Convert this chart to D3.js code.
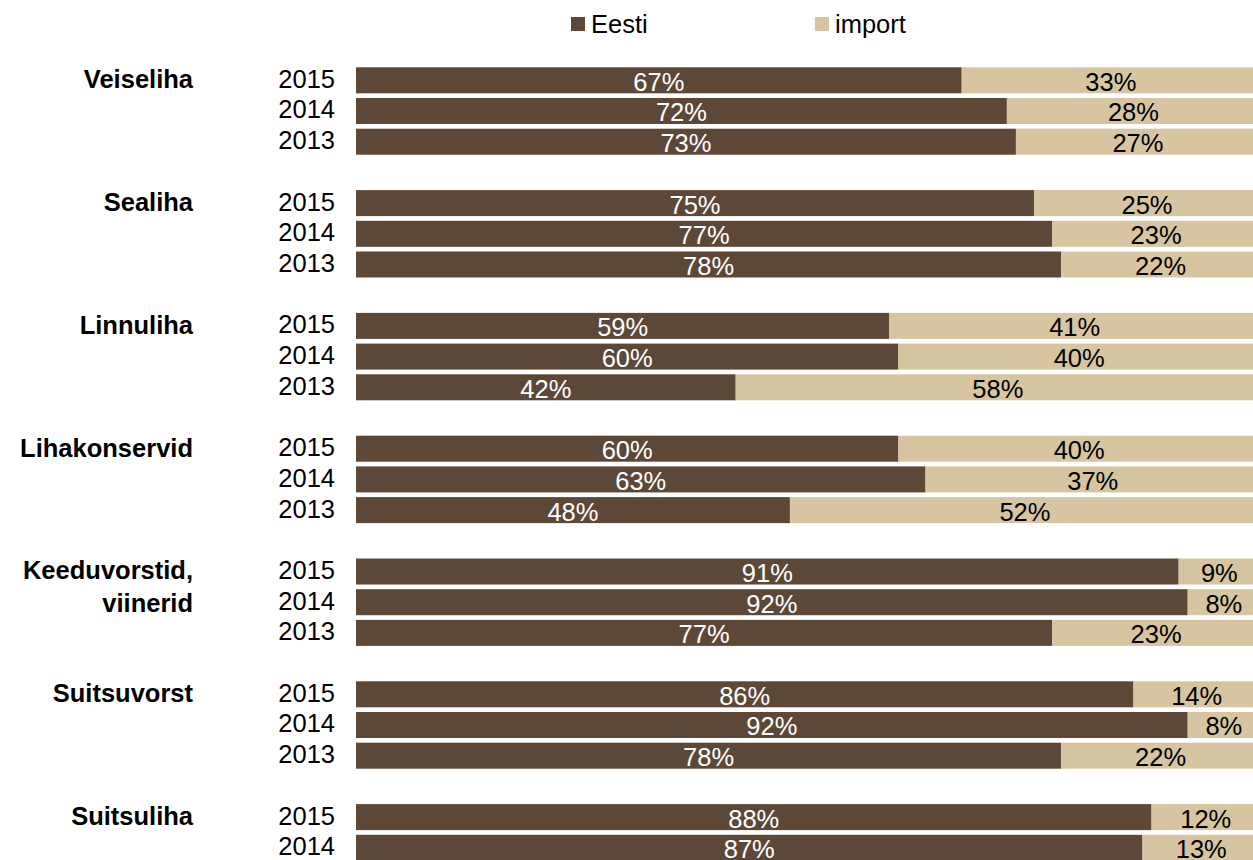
<!DOCTYPE html>
<html>
<head>
<meta charset="utf-8">
<script src="https://cdn.jsdelivr.net/npm/d3@7"></script>
<style>
  html, body { margin: 0; padding: 0; background: #fff; overflow: hidden; }
  svg { display: block; font-family: 'Liberation Sans', Arial, sans-serif; }
</style>
</head>
<body>
<svg width="1253" height="860"></svg>
<script>
let categories = ['Veiseliha', 'Sealiha', 'Linnuliha', 'Lihakonservid', 'Keeduvorstid, viinerid', 'Suitsuvorst', 'Suitsuliha'];
let years = ['2015', '2014', '2013'];
let seriesNames = ['Eesti', 'import'];
let eestiValues = [[67, 72, 73], [75, 77, 78], [59, 60, 42], [60, 63, 48], [91, 92, 77], [86, 92, 78], [88, 87]];
let importValues = [[33, 28, 27], [25, 23, 22], [41, 40, 58], [40, 37, 52], [9, 8, 23], [14, 8, 22], [12, 13]];

let svg = d3.select('svg');

let colors = {Eesti: '#5d4837', import: '#d7c5a1'};
let fontSize = 25.5;

// every group uses 4 slots: 3 years + a gap
let slotsPerGroup = 4;
let nSlots = categories.length * slotsPerGroup;
let step = 30.7, pad = 0.153, topY = 67.3;

let y = d3.scaleBand()
    .domain(d3.range(nSlots))
    .range([topY, topY + step * (nSlots - pad)])
    .paddingInner(pad)
    .paddingOuter(0);

let x = d3.scaleLinear().domain([0, 100]).range([356, 1260]);

let rows = [];
categories.forEach((c, g) => {
    eestiValues[g].forEach((v, r) => {
        rows.push({cat: c, group: g, year: years[r], slot: g * slotsPerGroup + r, eesti: v, imp: importValues[g][r]});
    });
});

// legend
let legend = svg.append('g').attr('class', 'legend');
let legendX = [571, 815];
seriesNames.forEach((s, i) => {
    legend.append('rect')
        .attr('x', legendX[i]).attr('y', 17)
        .attr('width', 14).attr('height', 14)
        .attr('fill', colors[s]);
    legend.append('text')
        .attr('x', legendX[i] + 20).attr('y', 33.3)
        .attr('font-size', fontSize)
        .attr('fill', '#000')
        .text(s);
});

// category labels
let catLabels = svg.append('g').attr('class', 'categories');
categories.forEach((c, g) => {
    let y0 = y(g * slotsPerGroup) + 20.8;
    let parts = c.indexOf(', ') > 0 ? [c.split(', ')[0] + ',', c.split(', ')[1]] : [c];
    parts.forEach((p, k) => {
        catLabels.append('text')
            .attr('x', 193).attr('y', y0 + k * 32.4)
            .attr('text-anchor', 'end')
            .attr('font-size', fontSize)
            .attr('font-weight', 'bold')
            .text(p);
    });
});

// year labels
svg.append('g').attr('class', 'years')
    .selectAll('text')
    .data(rows)
    .enter().append('text')
    .attr('x', 335)
    .attr('y', d => y(d.slot) + 20.4)
    .attr('text-anchor', 'end')
    .attr('font-size', fontSize)
    .text(d => d.year);

// bars
let bars = svg.append('g').attr('class', 'bars');
bars.selectAll('rect.eesti')
    .data(rows)
    .enter().append('rect')
    .attr('class', 'eesti')
    .attr('x', x(0))
    .attr('y', d => y(d.slot))
    .attr('width', d => x(d.eesti) - x(0))
    .attr('height', y.bandwidth())
    .attr('fill', colors.Eesti);

bars.selectAll('rect.imp')
    .data(rows)
    .enter().append('rect')
    .attr('class', 'imp')
    .attr('x', d => x(d.eesti))
    .attr('y', d => y(d.slot))
    .attr('width', d => x(d.eesti + d.imp) - x(d.eesti))
    .attr('height', y.bandwidth())
    .attr('fill', colors.import);

// value labels
let labels = svg.append('g').attr('class', 'labels');
labels.selectAll('text.eesti')
    .data(rows)
    .enter().append('text')
    .attr('x', d => (x(0) + x(d.eesti)) / 2)
    .attr('y', d => y(d.slot) + 23.4)
    .attr('text-anchor', 'middle')
    .attr('font-size', fontSize)
    .attr('fill', '#fff')
    .text(d => d.eesti + '%');

labels.selectAll('text.imp')
    .data(rows)
    .enter().append('text')
    .attr('x', d => (x(d.eesti) + x(d.eesti + d.imp)) / 2)
    .attr('y', d => y(d.slot) + 23.4)
    .attr('text-anchor', 'middle')
    .attr('font-size', fontSize)
    .attr('fill', '#000')
    .text(d => d.imp + '%');
</script>
</body>
</html>
